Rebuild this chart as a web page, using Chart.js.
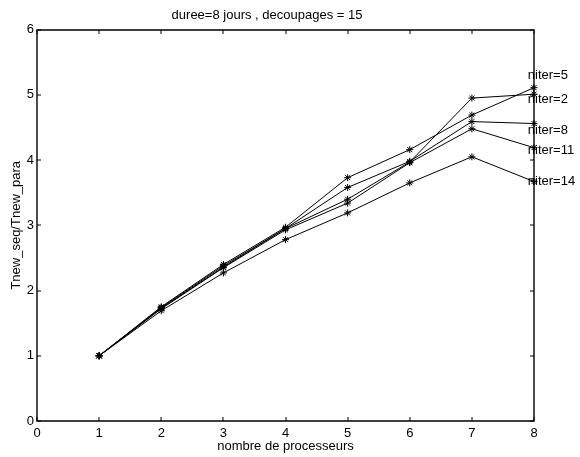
<!DOCTYPE html>
<html>
<head>
<meta charset="utf-8">
<script src="https://cdn.jsdelivr.net/npm/chart.js@4"></script>
<style>
  html, body { margin: 0; padding: 0; background: #fff; }
  #wrap { width: 580px; height: 457px; }
</style>
</head>
<body>
<div id="wrap"><canvas id="c" width="580" height="457"></canvas></div>
<script>
// ---- data ----
const processors = [1, 2, 3, 4, 5, 6, 7, 8];
const niter2  = [1, 1.73, 2.36, 2.95, 3.40, 3.97, 4.95, 5.01];
const niter5  = [1, 1.75, 2.40, 2.97, 3.73, 4.16, 4.69, 5.11];
const niter8  = [1, 1.74, 2.38, 2.95, 3.58, 3.98, 4.59, 4.56];
const niter11 = [1, 1.72, 2.35, 2.93, 3.34, 3.96, 4.48, 4.19];
const niter14 = [1, 1.69, 2.27, 2.78, 3.19, 3.65, 4.05, 3.67];
const seriesNames = ['niter=2', 'niter=5', 'niter=8', 'niter=11', 'niter=14'];
const seriesValues = [niter2, niter5, niter8, niter11, niter14];
// text annotations (data coordinates)
const annotTexts = ['niter=5', 'niter=2', 'niter=8', 'niter=11', 'niter=14'];
const annotX = [7.9, 7.9, 7.9, 7.9, 7.9];
const annotY = [5.30, 4.93, 4.46, 4.15, 3.67];
const xTicks = [0, 1, 2, 3, 4, 5, 6, 7, 8];
const yTicks = [0, 1, 2, 3, 4, 5, 6];
const titleText = 'duree=8 jours , decoupages = 15';
const xTitle = 'nombre de processeurs';
const yTitle = 'Tnew_seq/Tnew_para';

const FONT = 'Liberation Sans, Arial, Helvetica, sans-serif';
Chart.defaults.color = '#000';
Chart.defaults.font.family = FONT;
Chart.defaults.font.size = 13;

const datasets = seriesNames.map((name, i) => ({
  label: name,
  data: processors.map((p, j) => ({ x: p, y: seriesValues[i][j] })),
  borderColor: '#000',
  backgroundColor: '#000',
  borderWidth: 1,
  pointStyle: 'star',
  pointRadius: 3.5,
  pointBorderWidth: 1,
  pointBorderColor: '#000',
  tension: 0,
  clip: false
}));

const boxPlugin = {
  id: 'boxTicks',
  beforeDatasetsDraw(chart) {
    const { ctx, scales: { x, y } } = chart;
    const L = Math.round(x.getPixelForValue(0));
    const R = Math.round(x.getPixelForValue(8));
    const T = Math.round(y.getPixelForValue(6));
    const B = Math.round(y.getPixelForValue(0));
    ctx.save();
    ctx.setLineDash([]);
    ctx.strokeStyle = '#000';
    ctx.lineWidth = 1.4;
    ctx.lineCap = 'square';
    ctx.beginPath();
    ctx.moveTo(L, T); ctx.lineTo(R, T); ctx.lineTo(R, B); ctx.lineTo(L, B); ctx.closePath();
    ctx.stroke();
    const tl = 4;
    ctx.lineWidth = 1;
    ctx.lineCap = 'butt';
    ctx.beginPath();
    xTicks.forEach(v => {
      const px = Math.round(x.getPixelForValue(v));
      ctx.moveTo(px, B); ctx.lineTo(px, B - tl);
      ctx.moveTo(px, T); ctx.lineTo(px, T + tl);
    });
    yTicks.forEach(v => {
      const py = Math.round(y.getPixelForValue(v));
      ctx.moveTo(L, py); ctx.lineTo(L + tl, py);
      ctx.moveTo(R, py); ctx.lineTo(R - tl, py);
    });
    ctx.stroke();
    ctx.restore();
  },
  afterDraw(chart) {
    const { ctx, scales: { x, y } } = chart;
    ctx.save();
    ctx.fillStyle = '#000';
    ctx.font = '13px ' + FONT;
    ctx.textAlign = 'left';
    ctx.textBaseline = 'middle';
    annotTexts.forEach((t, i) => {
      ctx.fillText(t, x.getPixelForValue(annotX[i]), y.getPixelForValue(annotY[i]));
    });
    ctx.restore();
  }
};

new Chart(document.getElementById('c'), {
  type: 'line',
  data: { datasets },
  options: {
    responsive: false,
    animation: false,
    devicePixelRatio: 1,
    layout: { padding: { left: 0, right: 46, top: 0, bottom: 0 } },
    plugins: {
      legend: { display: false },
      tooltip: { enabled: false },
      title: {
        display: true,
        text: titleText,
        color: '#000',
        font: { size: 13, weight: 'normal', family: FONT },
        padding: { top: 8, bottom: 6 }
      }
    },
    scales: {
      x: {
        type: 'linear',
        min: 0, max: 8,
        afterFit(s) { s.height = 36; },
        afterBuildTicks(s) { s.ticks = xTicks.map(v => ({ value: v })); },
        grid: { display: false, drawTicks: false },
        border: { display: false },
        ticks: { padding: 5, color: '#000', font: { size: 13 }, maxRotation: 0, autoSkip: false },
        title: { display: true, text: xTitle, color: '#000', font: { size: 13 }, padding: { top: 0, bottom: 3 } }
      },
      y: {
        type: 'linear',
        min: 0, max: 6,
        afterFit(s) { s.width = 37; },
        afterBuildTicks(s) { s.ticks = yTicks.map(v => ({ value: v })); },
        grid: { display: false, drawTicks: false },
        border: { display: false },
        ticks: { padding: 3, color: '#000', font: { size: 13 } },
        title: { display: true, text: yTitle, color: '#000', font: { size: 13 }, padding: { top: 9, bottom: 0 } }
      }
    }
  },
  plugins: [boxPlugin]
});
</script>
</body>
</html>
